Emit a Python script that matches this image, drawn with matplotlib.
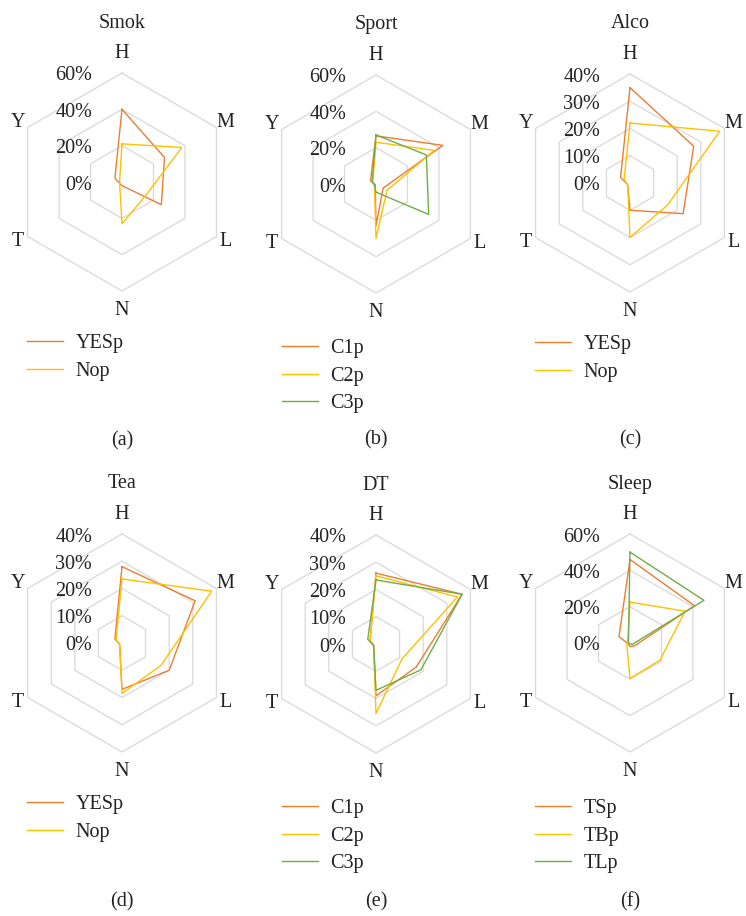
import numpy as np
import matplotlib
matplotlib.use("Agg")
import matplotlib.pyplot as plt
from matplotlib.transforms import offset_copy

plt.rcParams["font.family"] = ["Liberation Serif", "DejaVu Serif"]
plt.rcParams["text.color"] = "#222222"

# Spokes of every radar, clockwise from the top
dims = ["H", "M", "L", "N", "T", "Y"]

ORANGE = "#ED7D31"
YELLOW = "#FFC000"
GREEN = "#70AD47"
GRID = "#D9D9D9"

# Share of each group (%) per dimension H, M, L, N, T, Y
smok_names = ["YESp", "Nop"]
smok_yes = [40, 27, 25, 2, 1.5, 4.5]
smok_no = [21, 38, 15, 23, 1.5, 1.5]

sport_names = ["C1p", "C2p", "C3p"]
sport_c1 = [26.5, 42.5, 4.5, 23, 0.5, 3.5]
sport_c2 = [23, 37, 7, 30, 1, 2]
sport_c3 = [27, 32, 33.5, 4.5, 1, 2.5]

alco_names = ["YESp", "Nop"]
alco_yes = [35, 27, 22.5, 10, 1, 4]
alco_no = [22, 38, 16, 20, 1, 2.5]

tea_names = ["YESp", "Nop"]
tea_yes = [28, 31, 20, 17, 1, 3]
tea_no = [23.5, 38, 16.5, 18.5, 1, 2.5]

dt_names = ["C1p", "C2p", "C3p"]
dt_c1 = [26, 36.5, 17, 19, 1, 2.5]
dt_c2 = [25, 34.5, 11, 25.5, 1, 2.5]
dt_c3 = [23.5, 36.5, 19, 17, 1, 3.5]

sleep_names = ["TSp", "TBp", "TLp"]
sleep_ts = [46, 41, 3, 2, 1, 7]
sleep_tb = [22.5, 35, 19, 19.5, 2, 1.5]
sleep_tl = [50, 47, 1.5, 0.5, 0.5, 1]

W, H = 746, 916
fig = plt.figure(figsize=(W / 100, H / 100), dpi=100)

FS = 14.5
theta = np.deg2rad(np.arange(6) * 60.0)
theta_c = np.append(theta, theta[0])

panels = [
    # title, tag, max, step, series, names, colors, centre(x, y), legend(x, y top), tag y
    ("Smok", "(a)", 60, 20, [smok_yes, smok_no], smok_names, [ORANGE, YELLOW],
     (122, 182), (27, 334), 441),
    ("Sport", "(b)", 60, 20, [sport_c1, sport_c2, sport_c3], sport_names,
     [ORANGE, YELLOW, GREEN], (376, 184), (282, 339), 440),
    ("Alco", "(c)", 40, 10, [alco_yes, alco_no], alco_names, [ORANGE, YELLOW],
     (630, 183), (535, 335), 440),
    ("Tea", "(d)", 40, 10, [tea_yes, tea_no], tea_names, [ORANGE, YELLOW],
     (122, 643), (27, 795), 902),
    ("DT", "(e)", 40, 10, [dt_c1, dt_c2, dt_c3], dt_names, [ORANGE, YELLOW, GREEN],
     (376, 644), (282, 799), 902),
    ("Sleep", "(f)", 60, 20, [sleep_ts, sleep_tb, sleep_tl], sleep_names,
     [ORANGE, YELLOW, GREEN], (630, 643), (535, 799), 902),
]

R = 109  # outer ring radius in pixels

for title, tag, vmax, step, series, names, colors, (cx, cy), (lx, ly), tag_y in panels:
    ax = fig.add_axes([(cx - R) / W, 1 - (cy + R) / H, 2 * R / W, 2 * R / H],
                      projection="polar")
    ax.set_theta_zero_location("N")
    ax.set_theta_direction(-1)
    ax.set_ylim(0, vmax)
    ax.grid(False)
    ax.set_xticks([])
    ax.set_yticks([])
    ax.spines["polar"].set_visible(False)
    ax.patch.set_visible(False)

    ticks = np.arange(0, vmax + step, step)
    # hexagonal rings
    for r in ticks[1:]:
        ax.plot(theta_c, np.full(7, r), color=GRID, lw=0.9, zorder=1, clip_on=False)
    # radial scale labels along the top spoke
    tr = offset_copy(ax.transData, fig=fig, x=-30, y=-3, units="dots")
    for r in ticks:
        ax.text(0, r, f"{int(r)}%", transform=tr, ha="right", va="center",
                fontsize=FS)

    # spoke labels
    for ang, lab in zip(theta, dims):
        k = 1.18 if lab in ("H", "N") else 1.10
        ax.text(ang, vmax * k, lab, ha="center", va="center", fontsize=FS)

    lines = []
    for vals, col in zip(series, colors):
        ln, = ax.plot(theta_c, np.append(vals, vals[0]), color=col, lw=1.0,
                      zorder=3, clip_on=False)
        lines.append(ln)

    ax.legend(handles=lines, labels=names, loc="upper left",
              bbox_to_anchor=(lx / W, 1 - ly / H), bbox_transform=fig.transFigure,
              frameon=False, fontsize=FS, handlelength=1.8, handletextpad=0.6,
              labelspacing=0.42, borderpad=0, borderaxespad=0)

    fig.text(cx / W, 1 - (cy - 159) / H, title, ha="center", va="center", fontsize=FS)
    fig.text(cx / W, 1 - tag_y / H, tag, ha="center", va="center", fontsize=FS)

fig.savefig("out.png", dpi=100, facecolor="white")
